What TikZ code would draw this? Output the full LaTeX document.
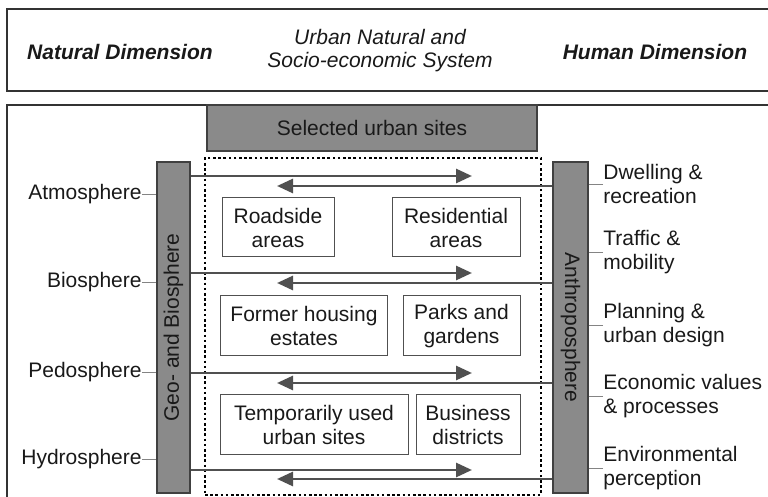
\documentclass[tikz,border=0pt]{standalone}
\usepackage{fontspec}
\setmainfont{Liberation Sans}
\usepackage{tikz}
\usetikzlibrary{arrows.meta}
\definecolor{bargray}{RGB}{138,138,138}
\definecolor{linegray}{RGB}{80,80,80}
\definecolor{textgray}{RGB}{25,25,25}

\begin{document}
\begin{tikzpicture}[x=0.5pt,y=-0.5pt,font=\fontsize{10.5}{12}\selectfont,text=textgray,
  frame/.style={draw=black!80,line width=1pt,inner sep=0pt},
  bar/.style={draw=black!75,line width=0.6pt,fill=bargray,inner sep=0pt},
  site/.style={draw=linegray,line width=0.5pt,align=center,inner sep=0pt},
  flow/.style={draw=linegray,line width=1.4pt,-{Triangle[length=8pt,width=7pt]}},
  tick/.style={draw=linegray!70,line width=0.4pt},
  lbl/.style={inner sep=0pt,align=left}]
\useasboundingbox (0,0) rectangle (768,497);
\clip (0,0) rectangle (768,497);
% frames
\node[frame,minimum width=384pt,minimum height=41pt] (head) at (391,50) {};
\node[frame,minimum width=384pt,minimum height=200pt] (body) at (391,305) {};
\node[font=\fontsize{10.5}{12}\selectfont\bfseries\itshape] (nat) at (120,52) {Natural Dimension};
\node[font=\fontsize{10.5}{11.5}\selectfont\itshape,align=center] (sys) at (380,51) {Urban Natural and\\Socio-economic System};
\node[font=\fontsize{10.5}{12}\selectfont\bfseries\itshape] (hum) at (655,52) {Human Dimension};
% urban sites
\node[bar,minimum width=165pt,minimum height=23pt] (sel) at (372,128) {Selected urban sites};
\node[draw=black,line width=1.3pt,dash pattern=on 1.3pt off 1.3pt,minimum width=168pt,minimum height=168.5pt] (sites) at (373,326.5) {};
\node[site,minimum width=56pt,minimum height=29.5pt] (road) at (278,227.5) {Roadside\\areas};
\node[site,minimum width=64pt,minimum height=29.5pt] (resid) at (456,227.5) {Residential\\areas};
\node[site,minimum width=83.5pt,minimum height=30pt] (former) at (304,326) {Former housing\\estates};
\node[site,minimum width=58.5pt,minimum height=30pt] (parks) at (461.5,326) {Parks and\\gardens};
\node[site,minimum width=94pt,minimum height=30pt] (temp) at (314,425) {Temporarily used\\urban sites};
\node[site,minimum width=52pt,minimum height=30pt] (busi) at (468,425) {Business\\districts};
% spheres
\node[bar,minimum width=16.5pt,minimum height=165.5pt] (geo) at (173.5,327.5) {};
\node[rotate=90] (geolbl) at (geo) {Geo- and Biosphere};
\node[bar,minimum width=17.5pt,minimum height=165.5pt] (anthro) at (570.5,327.5) {};
\node[rotate=-90] (anthrolbl) at (anthro) {Anthroposphere};
\foreach \ya/\yb/\n in {176/186/1,273/283/2,373/383/3,470/479/4} {
  \coordinate (r\n) at (472,\ya);
  \coordinate (l\n) at (277,\yb);
  \draw[flow] (geo.east |- r\n) -- (r\n);
  \draw[flow] (anthro.west |- l\n) -- (l\n);
}
\foreach \y/\name/\txt in {194/atmo/Atmosphere,282/bio/Biosphere,372/pedo/Pedosphere,459/hydro/Hydrosphere} {
  \node[lbl,anchor=east] (\name) at (142,\y) {\txt};
  \draw[tick] (\name.east) -- (geo.west |- \name.east);
}
\foreach \y/\name/\txt in {184/dwell/{Dwelling \&\\recreation},252/traffic/{Traffic \&\\mobility},
  325/plan/{Planning \&\\urban design},396/econ/{Economic values\\\& processes},468/envi/{Environmental\\perception}} {
  \node[lbl,anchor=west] (\name) at (603,\y) {\txt};
  \draw[tick] (\name.west) -- (anthro.east |- \name.west);
}
\end{tikzpicture}
\end{document}
